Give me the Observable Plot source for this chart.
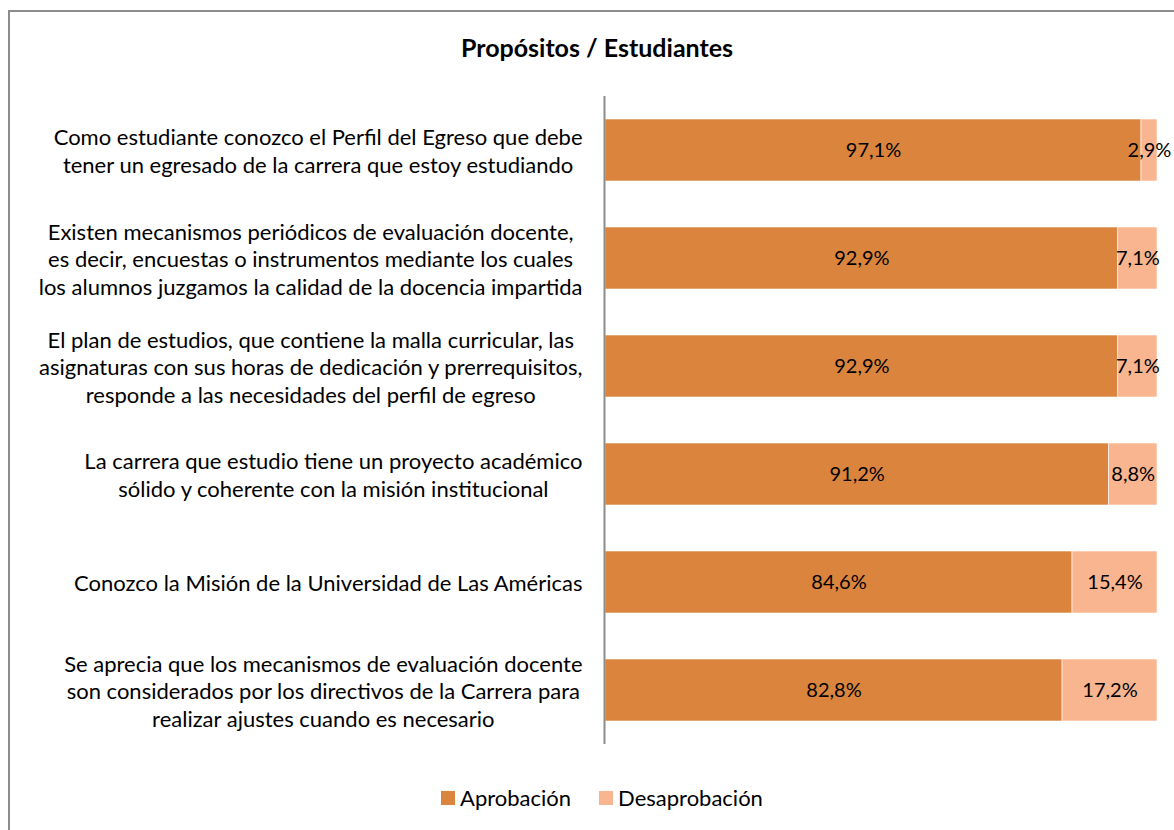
<!DOCTYPE html>
<html><head><meta charset="utf-8">
<script src="https://cdn.jsdelivr.net/npm/d3@7"></script>
<script src="https://cdn.jsdelivr.net/npm/@observablehq/plot@0.6"></script>
<style>
body{margin:0;overflow:hidden;background:#fff;font-family:Lato,"Open Sans",sans-serif;color:#000}
#wrap{position:relative;width:1174px;height:830px;overflow:hidden}
#frame{position:absolute;left:8px;top:10px;width:1300px;height:1000px;border:2px solid #8c8c8c;box-sizing:border-box}
#title{position:absolute;left:20px;top:0;width:1154px;padding-top:33px;line-height:28px;text-align:center;font-weight:bold;font-size:25px}
#chart{position:absolute;left:0;top:70px}
#legend{position:absolute;left:30px;top:782px;width:1144px;text-align:center;font-size:22px;line-height:30px}
#legend span.item{display:inline-flex;align-items:center;margin:0 14px}
#legend span.sw{display:inline-block;width:14px;height:14px;margin-right:5px}
</style>
</head><body>
<div id="wrap">
<div id="frame"></div>
<div id="title">Propósitos / Estudiantes</div>
<div id="chart"></div>
<div id="legend"></div>
</div>
<script>
const categories = [
  "Como estudiante conozco el Perfil del Egreso que debe\ntener un egresado de la carrera que estoy estudiando",
  "Existen mecanismos periódicos de evaluación docente,\nes decir, encuestas o instrumentos mediante los cuales\nlos alumnos juzgamos la calidad de la docencia impartida",
  "El plan de estudios, que contiene la malla curricular, las\nasignaturas con sus horas de dedicación y prerrequisitos,\nresponde a las necesidades del perfil de egreso",
  "La carrera que estudio tiene un proyecto académico\nsólido y coherente con la misión institucional",
  "Conozco la Misión de la Universidad de Las Américas",
  "Se aprecia que los mecanismos de evaluación docente\nson considerados por los directivos de la Carrera para\nrealizar ajustes cuando es necesario"
];
const aprobacion = [97.1, 92.9, 92.9, 91.2, 84.6, 82.8];
const desaprobacion = [2.9, 7.1, 7.1, 8.8, 15.4, 17.2];
const series = ["Aprobación", "Desaprobación"];
const colors = ["#DB843E", "#F9B58F"];

const rows = categories.flatMap((c, i) => [
  {cat: c, serie: series[0], v: aprobacion[i]},
  {cat: c, serie: series[1], v: desaprobacion[i]}
]);
const fmt = v => v.toFixed(1).replace(".", ",") + "%";
const FS = 22;

const plot = Plot.plot({
  width: 1174, height: 700,
  marginLeft: 605, marginRight: 17, marginTop: 26, marginBottom: 26,
  style: {fontFamily: "Lato, 'Open Sans', sans-serif", fontSize: FS + "px", overflow: "visible"},
  x: {domain: [0, 100], axis: null},
  y: {domain: categories, axis: null, paddingInner: 0.426, paddingOuter: 0.213},
  color: {domain: series, range: colors},
  marks: [
    Plot.barX(rows, {x: "v", y: "cat", fill: "serie", stroke: "white", strokeWidth: 0.6}),
    Plot.text(rows, Plot.stackX({x: "v", y: "cat", z: "serie", text: d => fmt(d.v), fill: "#000", fontSize: 20})),
    Plot.ruleX([0], {stroke: "#8c8c8c", strokeWidth: 2, dx: -1}),
    Plot.text(categories, {y: d => d, text: d => d, frameAnchor: "left", dx: -23, textAnchor: "middle", lineHeight: 1.27, fontSize: FS, fill: "#000", className: "ylab"})
  ]
});
document.getElementById("chart").appendChild(plot);
// right-align each label block while centering its lines
plot.querySelectorAll(".ylab text").forEach(t => {
  const w = t.getBBox().width;
  t.setAttribute("transform", (t.getAttribute("transform") || "") + ` translate(${-w / 2},0)`);
});

const legend = document.getElementById("legend");
series.forEach((s, i) => {
  const item = document.createElement("span");
  item.className = "item";
  item.innerHTML = `<span class="sw" style="background:${colors[i]}"></span>${s}`;
  legend.appendChild(item);
});
</script>
</body></html>
